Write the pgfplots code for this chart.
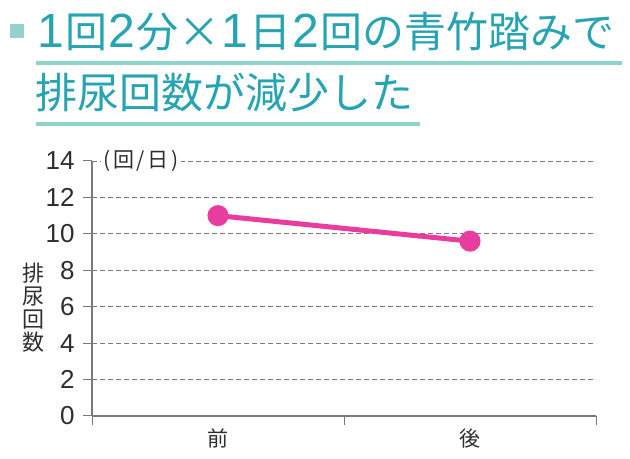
\documentclass[border=0pt]{standalone}
\usepackage{fontspec}
\usepackage{pgfplots}
\pgfplotsset{compat=1.18}
\setmainfont{Noto Sans CJK JP}
\newfontfamily\lsans{Liberation Sans}
\definecolor{tealtxt}{HTML}{27A4B3}
\definecolor{ulcol}{HTML}{8DD4C9}
\definecolor{sqcol}{HTML}{93D2C6}
\definecolor{mag}{HTML}{E93C9F}
\definecolor{axgray}{HTML}{7A7A7A}
\definecolor{txtgray}{HTML}{2E2E2E}
\newcommand{\dg}[1]{\kern1.2bp{\lsans\fontsize{48bp}{48bp}\selectfont #1}\kern1.3bp}
\begin{document}
\begin{tikzpicture}
\useasboundingbox (0,0) rectangle (630bp,459bp);
\fill[sqcol] (10bp,421bp) rectangle (24bp,435bp);
\node[anchor=base west, inner sep=0, text=tealtxt, font=\fontsize{42bp}{44bp}\selectfont] at (36bp,411bp) {\dg{1}回\dg{2}分×\dg{1}日\dg{2}回の青竹踏みで};
\node[anchor=base west, inner sep=0, text=tealtxt, font=\fontsize{42bp}{44bp}\selectfont] at (35bp,350bp) {排尿回数が減少した};
\fill[ulcol] (36bp,394bp) rectangle (622bp,398bp);
\fill[ulcol] (36bp,333bp) rectangle (420bp,337bp);
\begin{axis}[
  at={(92bp,43bp)}, anchor=south west,
  scale only axis, width=504bp, height=255bp,
  xmin=-0.5, xmax=1.5, ymin=0, ymax=14,
  axis x line=bottom, axis y line=left,
  axis line style={draw=axgray, line width=1.2bp, -},
  xtick={0,1}, xticklabels={前,後},
  minor xtick={-0.5,0.5,1.5},
  ytick={0,2,4,6,8,10,12,14},
  tick align=outside,
  major tick length=9bp, minor tick length=9bp,
  tick style={draw=axgray, line width=1bp},
  major x tick style={draw=none},
  ymajorgrids,
  grid style={draw=axgray, line width=0.9bp, dash pattern=on 4.5bp off 3.5bp},
  /pgf/number format/assume math mode=true,
  yticklabel style={font=\lsans\fontsize{26bp}{26bp}\selectfont, text=txtgray, xshift=-5bp},
  xticklabel style={font=\fontsize{21bp}{21bp}\selectfont, text=txtgray},
  clip=false,
]
\addplot[color=mag, line width=5bp, mark=*, mark size=8bp, mark options={solid, fill=mag, draw=mag}] coordinates {(0,11.0) (1,9.6)};
\node[anchor=west, fill=white, inner sep=2bp, text=txtgray, font=\fontsize{21bp}{21bp}\selectfont] at (rel axis cs:0.018,1) {(\kern3.5bp 回\kern2bp/\kern2bp 日\kern3.5bp)};
\node[align=center, text=txtgray, font=\fontsize{22bp}{23bp}\selectfont] at (rel axis cs:-0.117,0.424) {排\\尿\\回\\数};
\end{axis}
\end{tikzpicture}
\end{document}
